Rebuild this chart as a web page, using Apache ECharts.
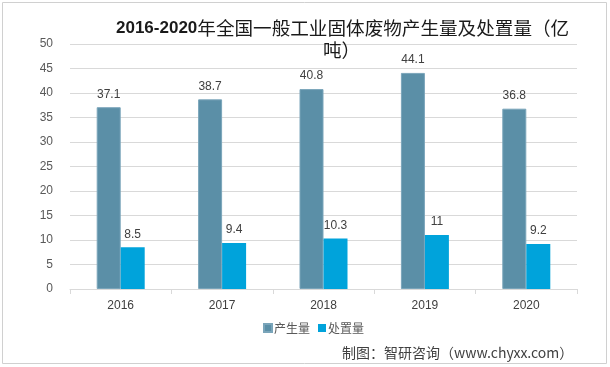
<!DOCTYPE html>
<html>
<head>
<meta charset="utf-8">
<script src="https://cdn.jsdelivr.net/npm/echarts@6/dist/echarts.min.js"></script>
<style>
html,body{margin:0;padding:0;background:#fff;}
#c{width:610px;height:367px;}
</style>
</head>
<body>
<div id="c"></div>
<script>
const categories = ['2016', '2017', '2018', '2019', '2020'];
const production = [37.1, 38.7, 40.8, 44.1, 36.8];
const disposal = [8.5, 9.4, 10.3, 11, 9.2];
const seriesNames = ['产生量', '处置量'];
const yTicks = { min: 0, max: 50, interval: 5 };

const chart = echarts.init(document.getElementById('c'), null, { renderer: 'canvas' });
const labelStyle = { show: true, position: 'top', color: '#404040', fontSize: 12, fontFamily: 'Liberation Sans, Noto Sans, sans-serif', distance: 7 };
chart.setOption({
  animation: false,
  backgroundColor: '#fff',
  graphic: [{
    type: 'rect', shape: { x: 2.5, y: 2.5, width: 604, height: 361 },
    style: { fill: 'none', stroke: '#d0d0d0', lineWidth: 1 }, silent: true
  }],
  title: [{
    text: '{a|2016-2020}{b|年全国一般工业固体废物产生量及处置量（亿}',
    left: 111, top: 14,
    textStyle: {
      rich: {
        a: { fontSize: 17, fontWeight: 'bold', color: '#1a1a1a', fontFamily: 'Liberation Sans, Noto Sans, sans-serif' },
        b: { fontSize: 18.6, fontWeight: 'normal', color: '#1a1a1a', fontFamily: 'Noto Sans CJK SC' }
      }
    }
  }, {
    text: '吨）',
    left: 318, top: 36,
    textStyle: { fontSize: 18.6, fontWeight: 'normal', color: '#1a1a1a', fontFamily: 'Noto Sans CJK SC' }
  }, {
    text: '制图：智研咨询（www.chyxx.com）',
    left: 337, top: 341,
    textStyle: { fontSize: 14, fontWeight: 'normal', color: '#404040', fontFamily: 'Noto Sans CJK SC' }
  }],
  legend: {
    data: seriesNames,
    left: 258, top: 317,
    itemWidth: 8, itemHeight: 8, itemGap: 8,
    icon: 'rect',
    textStyle: { fontSize: 12, color: '#595959', fontFamily: 'Noto Sans CJK SC', padding: [0, 0, 0, -3] }
  },
  grid: { left: 70, right: 33, top: 44, bottom: 78, containLabel: false },
  xAxis: {
    type: 'category', data: categories,
    axisLine: { lineStyle: { color: '#d9d9d9' } },
    axisTick: { show: true, length: 5, lineStyle: { color: '#d9d9d9' } },
    axisLabel: { color: '#404040', fontSize: 12, margin: 11, fontFamily: 'Liberation Sans, Noto Sans, sans-serif' }
  },
  yAxis: {
    type: 'value', min: yTicks.min, max: yTicks.max, interval: yTicks.interval,
    axisLine: { show: false }, axisTick: { show: false },
    axisLabel: { color: '#595959', fontSize: 12, margin: 17, fontFamily: 'Liberation Sans, Noto Sans, sans-serif' },
    splitLine: { lineStyle: { color: '#d9d9d9' } }
  },
  series: [{
    name: seriesNames[0], type: 'bar', data: production,
    barWidth: 24, barGap: '0%',
    itemStyle: { color: '#5b8fa7', borderColor: '#7aa5ba', borderWidth: 1 },
    label: labelStyle
  }, {
    name: seriesNames[1], type: 'bar', data: disposal,
    barWidth: 24,
    itemStyle: { color: '#00a3db' },
    label: labelStyle
  }]
});
</script>
</body>
</html>
